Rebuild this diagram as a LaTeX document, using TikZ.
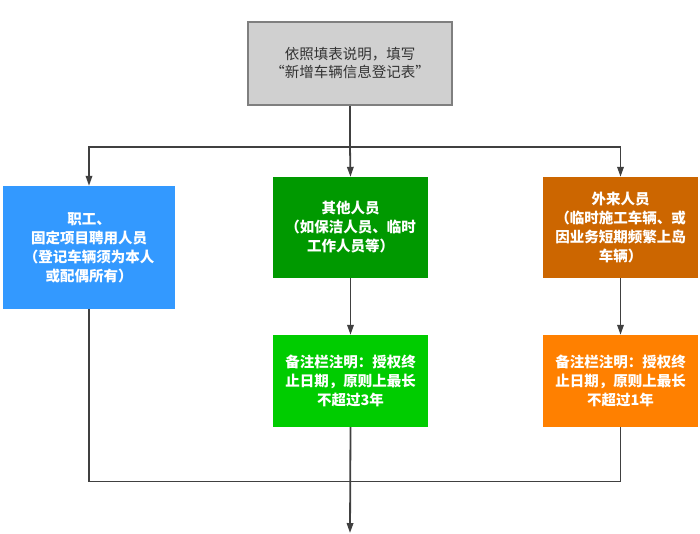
\documentclass[tikz,border=0pt]{standalone}
\usepackage{fontspec}
\setmainfont{Noto Sans CJK SC}
\usetikzlibrary{arrows.meta}
\definecolor{topfill}{HTML}{D0D0D0}
\definecolor{topdraw}{HTML}{7F7F7F}
\definecolor{linec}{HTML}{404040}
\definecolor{cblue}{HTML}{3399FF}
\definecolor{cgreen}{HTML}{009900}
\definecolor{cbrown}{HTML}{CC6600}
\definecolor{cgreenb}{HTML}{00CC00}
\definecolor{corange}{HTML}{FF8000}
\tikzset{
  box/.style={rectangle, inner sep=0pt, align=center, text=white,
    font=\fontsize{14.5}{19}\selectfont\bfseries},
  topbox/.style={rectangle, inner sep=0pt, align=center, fill=topfill, draw=topdraw,
    line width=1.2pt, text=black!80, font=\fontsize{14.5}{18}\selectfont},
  conn/.style={draw=linec, line width=1.8pt},
  arr/.style={conn, -{Triangle[length=10pt,width=6.5pt]}}
}
\begin{document}
\begin{tikzpicture}[x=1pt,y=-1pt]
\useasboundingbox (0,0) rectangle (700,533);
\node[topbox, minimum width=204pt, minimum height=83pt] (top) at (350,63.5)
  {依照填表说明，填写\\“新增车辆信息登记表”};
\node[box, fill=cblue, minimum width=172pt, minimum height=123pt] (blue) at (89,247.5)
  {职工、\\固定项目聘用人员\\（登记车辆须为本人\\或配偶所有）};
\node[box, fill=cgreen, minimum width=155pt, minimum height=101pt] (green) at (350.5,227.5)
  {其他人员\\（如保洁人员、临时\\工作人员等）};
\node[box, fill=cbrown, minimum width=155pt, minimum height=101pt] (brown) at (620.5,227.5)
  {外来人员\\（临时施工车辆、或\\因业务短期频繁上岛\\车辆）};
\node[box, fill=cgreenb, minimum width=155pt, minimum height=92pt] (g2) at (350.5,381)
  {备注栏注明：授权终\\止日期，原则上最长\\不超过3年};
\node[box, fill=corange, minimum width=155pt, minimum height=92pt] (o2) at (620.5,381)
  {备注栏注明：授权终\\止日期，原则上最长\\不超过1年};
\coordinate (split) at (350,147);
\coordinate (merge) at (350,481.5);
\coordinate (end) at (350,533);
\draw[conn] (top.south) -- (split);
\draw[arr] (split) -| (blue.north);
\draw[arr] (split) -| (brown.north);
\draw[arr] (split) -- (green.north);
\draw[arr] (green.south) -- (g2.north);
\draw[arr] (brown.south) -- (o2.north);
\draw[conn] (blue.south) |- (merge);
\draw[conn] (o2.south) |- (merge);
\draw[arr] (g2.south) -- (end);
\end{tikzpicture}
\end{document}
